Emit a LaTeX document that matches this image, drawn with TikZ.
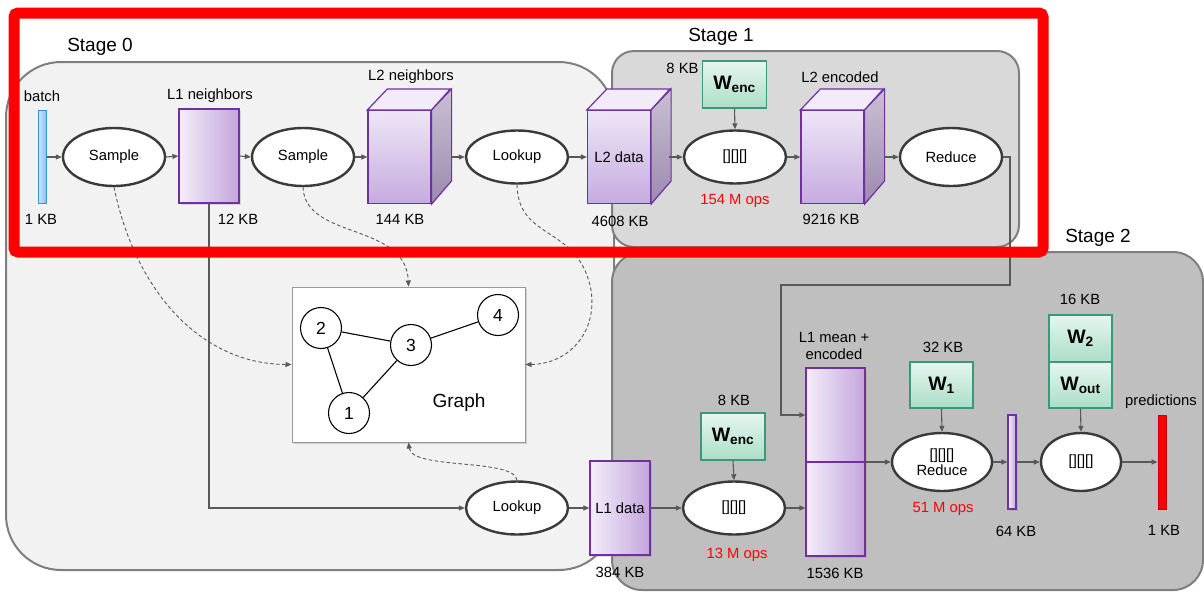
\documentclass[tikz,border=0pt]{standalone}
\usepackage{fontspec}
\setmainfont{Liberation Sans}
\usetikzlibrary{arrows.meta,shapes.geometric,calc,shadows}

\definecolor{stageline}{HTML}{7F7F7F}
\definecolor{stagezero}{HTML}{F2F2F2}
\definecolor{stageone}{HTML}{D9D9D9}
\definecolor{stagetwo}{HTML}{BFBFBF}
\definecolor{ellline}{HTML}{3A3A3A}
\definecolor{conn}{HTML}{595959}
\definecolor{purp}{HTML}{7030A0}
\definecolor{purpL}{HTML}{F3EEF9}
\definecolor{purpR}{HTML}{C3A5DD}
\definecolor{cubeT}{HTML}{EEE6F6}
\definecolor{cubeB}{HTML}{C6ABDF}
\definecolor{cubeTop}{HTML}{F2ECF9}
\definecolor{sideT}{HTML}{C9C0D3}
\definecolor{sideB}{HTML}{9C8AAF}
\definecolor{grnT}{HTML}{E6F6EF}
\definecolor{grnB}{HTML}{ABDEC8}
\definecolor{grnline}{HTML}{3A9A78}
\definecolor{blueL}{HTML}{CFE6FB}
\definecolor{blueR}{HTML}{8EC2F0}
\definecolor{blueline}{HTML}{3C8DDB}
\definecolor{opsred}{HTML}{FF0000}

\tikzset{
  every node/.style={font=\fontsize{14.8}{16.5}\selectfont, inner sep=0pt},
  stagebox/.style={draw=stageline, line width=2pt},
  stagelabel/.style={font=\fontsize{19}{20}\selectfont},
  proc/.style={ellipse, draw=ellline, fill=white, line width=2.4pt,
    minimum width=102pt, minimum height=58pt},
  procsm/.style={proc, minimum height=53pt},
  flow/.style={-{Triangle[length=6pt,width=5pt]}, draw=conn, line width=1.1pt},
  dflow/.style={flow, dash pattern=on 3.5pt off 2.5pt, line width=0.9pt},
  databox/.style={draw=purp, line width=1.2pt, left color=purpL, right color=purpR,
    drop shadow={opacity=0.25, shadow xshift=1.5pt, shadow yshift=-1.5pt}},
  cubefront/.style={draw=purp, line width=1.2pt, top color=cubeT, bottom color=cubeB,
    minimum width=63pt, minimum height=93pt},
  wbox/.style={draw=grnline, line width=1.4pt, top color=grnT, bottom color=grnB,
    minimum width=64pt, minimum height=47pt, font=\fontsize{19.5}{20}\selectfont\bfseries},
  bluebar/.style={draw=blueline, line width=1pt, left color=blueL, right color=blueR,
    minimum width=8pt, minimum height=93pt},
  ops/.style={text=opsred},
  gnode/.style={circle, draw=black, line width=1.1pt, fill=white, minimum size=41pt,
    font=\fontsize{17.5}{18}\selectfont},
  gedge/.style={draw=black, line width=1.1pt}
}

% a data cube: front face node #1 centred at #2, label #3
\newcommand\datacube[3]{%
  \node[cubefront] (#1) at (#2) {#3};
  \draw[purp, line width=1.2pt, fill=cubeTop]
    (#1.north west) -- ++(20,-21) -- ++(63,0) -- (#1.north east) -- cycle;
  \draw[purp, line width=1.2pt, top color=sideT, bottom color=sideB]
    (#1.north east) -- ++(20,-21) -- ++(0,92) -- (#1.south east) -- cycle;
}

\begin{document}
\begin{tikzpicture}[x=1pt,y=-1pt]
\useasboundingbox (0,0) rectangle (1204,592);

% stage panels
\draw[stagebox, fill=stagezero, rounded corners=55pt] (6,62) rectangle (614,570);
\draw[stagebox, fill=stageone, rounded corners=22pt] (612,51) rectangle (1019,247);
\begin{scope}
  \clip (0,0) rectangle (1204,592);
  \draw[stagebox, fill=stagetwo, rounded corners=30pt] (612,252) rectangle (1203,590);
\end{scope}

\node[stagelabel] (st0) at (100,47) {Stage 0};
\node[stagelabel] (st1) at (721,37) {Stage 1};
\node[stagelabel] (st2) at (1098,238) {Stage 2};

% top pipeline
\node[bluebar] (batch) at (42,157) {};
\node (batchlbl) at (42,96) {batch};
\node (batchkb) at (41,219) {1 KB};

\node[proc] (s1) at (114,157) {Sample};
\node[databox, minimum width=60pt, minimum height=94pt] (l1n) at (209,156) {};
\node (l1nlbl) at (210,96) {L1 neighbors};
\node (l1nkb) at (238,219) {12 KB};

\node[proc] (s2) at (303,157) {Sample};
\datacube{l2n}{399.5,157}{}
\node (l2nlbl) at (411,77) {L2 neighbors};
\node (l2nkb) at (400,219) {144 KB};
\coordinate (l2nout) at (451,157);

\node[procsm] (lk1) at (517,157) {Lookup};
\datacube{l2d}{619,157}{L2 data}
\node (l2dkb) at (620,221) {4608 KB};
\coordinate (l2dout) at (669,157);

\node[wbox] (wenc1) at (734.5,84.5) {W\textsubscript{enc}};
\node (wenc1kb) at (682.5,68) {8 KB};
\node[procsm] (enc1) at (735,157) {[][][]};
\node[ops] (ops1) at (735,201) {154 M ops};

\datacube{l2e}{832.5,157}{}
\node (l2elbl) at (840,77) {L2 encoded};
\node (l2ekb) at (831,219) {9216 KB};
\coordinate (l2eout) at (884,157);

\node[proc] (red1) at (951,157) {Reduce};

% graph
\node[draw=stageline!80, line width=1pt, fill=white, minimum width=233pt, minimum height=155pt,
  drop shadow={opacity=0.3, shadow xshift=2pt, shadow yshift=-2pt}] (graph) at (408.5,364.5) {};
\node[gnode] (g2) at (321,328) {2};
\node[gnode] (g3) at (411,345) {3};
\node[gnode] (g4) at (498,315) {4};
\node[gnode] (g1) at (349,413) {1};
\draw[gedge] (g2) -- (g3);
\draw[gedge] (g2) -- (g1);
\draw[gedge] (g1) -- (g3);
\draw[gedge] (g3) -- (g4);
\node[font=\fontsize{19}{20}\selectfont] (graphlbl) at (459,403) {Graph};

% bottom pipeline
\node[procsm] (lk2) at (517,508) {Lookup};
\node[databox, minimum width=60pt, minimum height=94pt] (l1d) at (620,508) {L1 data};
\node (l1dkb) at (620,572) {384 KB};

\node[wbox] (wenc2) at (733,436.5) {W\textsubscript{enc}};
\node (wenc2kb) at (734,400) {8 KB};
\node[procsm] (enc2) at (734,508) {[][][]};
\node[ops] (ops2) at (737,555) {13 M ops};

\node[databox, minimum width=59pt, minimum height=188pt] (l1m) at (835.5,462) {};
\draw[purp, line width=1.2pt] (l1m.west) -- (l1m.east);
\node[align=center] (l1mlbl) at (834,346) {L1 mean +\\encoded};
\node (l1mkb) at (835,573) {1536 KB};

\node[wbox, minimum width=63pt, minimum height=46pt] (w1) at (941.5,385) {W\textsubscript{1}};
\node (w1kb) at (943,347) {32 KB};
\node[proc, minimum width=100pt] (red2) at (942,462) {};
\node[align=center, font=\fontsize{14.8}{16}\selectfont] (red2lbl) at (942,462) {[][][]\\Reduce};
\node[ops] (ops3) at (943,509) {51 M ops};

\node[databox, minimum width=8pt, minimum height=94pt, drop shadow={opacity=0}] (h64) at (1012,462) {};
\node (h64kb) at (1016,531) {64 KB};

\node[wbox, minimum width=63pt, minimum height=47pt] (w2) at (1080.5,338.5) {W\textsubscript{2}};
\node[wbox, minimum width=63pt, minimum height=46pt] (wout) at (1080.5,385) {W\textsubscript{out}};
\node (w2kb) at (1080,299) {16 KB};
\node[proc, minimum width=80pt] (outop) at (1081,462) {[][][]};

\node[draw=opsred!80!black, line width=0.8pt, fill=opsred, minimum width=8pt, minimum height=94pt] (pred) at (1162,462) {};
\node (predlbl) at (1161,402) {predictions};
\node (predkb) at (1164,530) {1 KB};

% solid data flow
\draw[flow] (batch.east) -- (s1.west);
\draw[flow] (s1.east) -- (l1n.west);
\draw[flow] (l1n.east) -- (s2.west);
\draw[flow] (s2.east) -- (l2n.west);
\draw[flow] (l2nout) -- (lk1.west);
\draw[flow] (lk1.east) -- (l2d.west);
\draw[flow] (l2dout) -- (enc1.west);
\draw[flow] (wenc1.south) -- (enc1.north);
\draw[flow] (enc1.east) -- (l2e.west);
\draw[flow] (l2eout) -- (red1.west);

\coordinate (fbtop) at (1010,285);
\coordinate (fbin) at (781,415);
\draw[flow] (red1.east) -| (fbtop) -| (fbin) -- (fbin -| l1m.west);

\draw[flow] (l1n.south) |- (lk2.west);
\draw[flow] (lk2.east) -- (l1d.west);
\draw[flow] (l1d.east) -- (enc2.west);
\draw[flow] (wenc2.south) -- (enc2.north);
\draw[flow] (enc2.east) -- (enc2.east -| l1m.west);
\draw[flow] (l1m.east) -- (red2.west);
\draw[flow] (w1.south) -- (red2.north);
\draw[flow] (red2.east) -- (h64.west);
\draw[flow] (h64.east) -- (outop.west);
\draw[flow] (wout.south) -- (outop.north);
\draw[flow] (outop.east) -- (pred.west);

% graph accesses
\draw[dflow] (s1.south) .. controls (135,290) and (200,364) .. (graph.west);
\draw[dflow] (s2.south) .. controls (305,240) and (406,222) .. (graph.north);
\draw[dflow] (lk1.south) .. controls (518,240) and (575,225) .. (590,285)
  .. controls (600,330) and (570,364) .. (graph.east);
\draw[dflow] (lk2.north) .. controls (515,458) and (412,470) .. (graph.south);

% highlight frame
\draw[opsred, line width=11pt, rounded corners=4pt] (14,13) rectangle (1043,252);
\end{tikzpicture}
\end{document}
